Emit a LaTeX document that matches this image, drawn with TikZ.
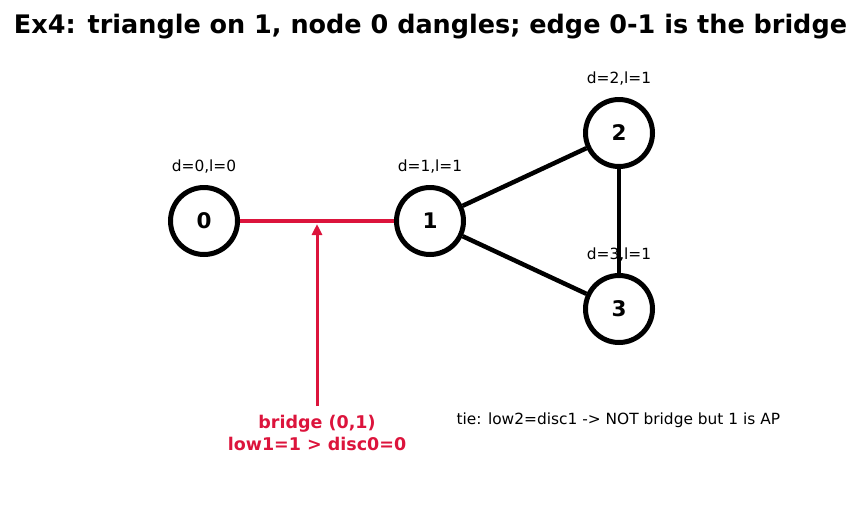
\documentclass[tikz,border=0pt]{standalone}
\usepackage{fontspec}
\setmainfont{DejaVu Sans}
\usepackage{xcolor}
\usepackage{tikz}
\usetikzlibrary{arrows.meta}
\definecolor{bridgered}{HTML}{DC143C}

\begin{document}
\begin{tikzpicture}[
    x=1pt, y=1pt,
    vertex/.style={circle, draw, line width=5pt, fill=white, minimum size=67pt, inner sep=0pt, font=\fontsize{21.5}{25}\selectfont\bfseries},
    info/.style={font=\fontsize{15.4}{18}\selectfont},
    edge/.style={line width=4.5pt},
    bridge/.style={line width=4pt, draw=bridgered},
    pointer/.style={-{Triangle[length=11pt, width=10pt]}, line width=3pt, draw=bridgered}
]
    \useasboundingbox (0,0) rectangle (861,-512);

    % Title
    \node[font=\fontsize{25.5}{30}\selectfont\bfseries] (title) at (430.5,-27) {Ex4: triangle on 1, node 0 dangles; edge 0-1 is the bridge};

    % Labels
    \node[info] (lab0) at (204,-167) {d=0,l=0};
    \node[info] (lab1) at (430,-167) {d=1,l=1};
    \node[info] (lab2) at (619,-79) {d=2,l=1};
    \node[info] (lab3) at (619,-255) {d=3,l=1};

    % Vertices
    \node[vertex] (n0) at (204,-221) {0};
    \node[vertex] (n1) at (430,-221) {1};
    \node[vertex] (n2) at (619,-133) {2};
    \node[vertex] (n3) at (619,-309) {3};

    % Edges
    \draw[bridge] (n0) -- (n1);
    \draw[edge] (n1) -- (n2);
    \draw[edge] (n1) -- (n3);
    \draw[edge] (n2) -- (n3);

    % Bridge annotation
    \coordinate (tip) at (317,-224);
    \node[font=\fontsize{17.5}{22}\selectfont\bfseries, text=bridgered, align=center] (note) at (317,-433) {bridge (0,1)\\low1=1 > disc0=0};
    \coordinate (tail) at (317,-406);
    \draw[pointer] (tail) -- (tip);

    % Tie note
    \node[info, anchor=west] (tie) at (453,-420) {tie: low2=disc1 -> NOT bridge but 1 is AP};
\end{tikzpicture}
\end{document}
